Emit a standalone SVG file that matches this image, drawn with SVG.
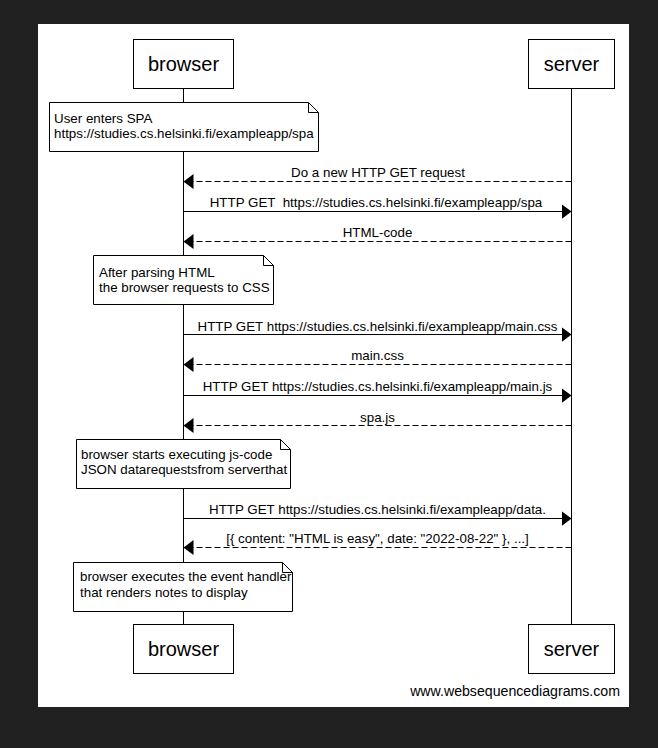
<svg xmlns="http://www.w3.org/2000/svg" width="658" height="748" viewBox="0 0 658 748">
  <defs>
    <marker id="head" markerUnits="userSpaceOnUse" markerWidth="10" markerHeight="15" refX="10" refY="7.5" orient="auto">
      <path d="M0,0 L10,7.5 L0,15 Z" fill="#000"/>
    </marker>
    <style>
      .box{fill:#fff;stroke:#000;stroke-width:1}
      .life{stroke:#000;stroke-width:1;fill:none}
      .msg{stroke:#000;stroke-width:1;fill:none;marker-end:url(#head)}
      .dash{stroke-dasharray:6,3}
      .title{font-family:"Liberation Sans",Arial,sans-serif;font-size:20px;fill:#000;text-anchor:middle}
      .lbl{font-family:"Liberation Sans",Arial,sans-serif;font-size:13.35px;fill:#000;text-anchor:middle;white-space:pre}
      .note{font-family:"Liberation Sans",Arial,sans-serif;font-size:13.35px;fill:#000}
      .fold{fill:none;stroke:#000;stroke-width:1}
    </style>
  </defs>
  <rect x="0" y="0" width="658" height="748" fill="#212121"/>
  <rect x="38" y="24" width="591" height="683" fill="#fff"/>

  <g id="lifelines">
    <line class="life" x1="183.5" y1="88.5" x2="183.5" y2="624.5"/>
    <line class="life" x1="571.5" y1="88.5" x2="571.5" y2="624.5"/>
  </g>

  <g id="browser-top">
    <rect class="box" x="133.5" y="39.5" width="100" height="49"/>
    <text class="title" x="183.5" y="71">browser</text>
  </g>
  <g id="server-top">
    <rect class="box" x="528.5" y="39.5" width="86" height="49"/>
    <text class="title" x="571.5" y="71">server</text>
  </g>
  <g id="browser-bottom">
    <rect class="box" x="133.5" y="624.5" width="100" height="49"/>
    <text class="title" x="183.5" y="656">browser</text>
  </g>
  <g id="server-bottom">
    <rect class="box" x="528.5" y="624.5" width="86" height="49"/>
    <text class="title" x="571.5" y="656">server</text>
  </g>

  <g id="note1">
    <path class="box" d="M49.5,102.5 H308.5 L318.5,112.5 V151.5 H49.5 Z"/>
    <path class="fold" d="M308.5,102.5 V112.5 H318.5"/>
    <text class="note" x="54" y="122.5">User enters SPA</text>
    <text class="note" x="54" y="137.5">https://studies.cs.helsinki.fi/exampleapp/spa</text>
  </g>
  <g id="note2">
    <path class="box" d="M93.5,255.5 H263.5 L273.5,265.5 V304.5 H93.5 Z"/>
    <path class="fold" d="M263.5,255.5 V265.5 H273.5"/>
    <text class="note" x="99" y="276.5">After parsing HTML</text>
    <text class="note" x="99" y="292">the browser requests to CSS</text>
  </g>
  <g id="note3">
    <path class="box" d="M76.5,439.5 H280.5 L290.5,449.5 V488.5 H76.5 Z"/>
    <path class="fold" d="M280.5,439.5 V449.5 H290.5"/>
    <text class="note" x="81" y="458.5">browser starts executing js-code</text>
    <text class="note" x="81" y="473.5">JSON datarequestsfrom serverthat</text>
  </g>
  <g id="note4">
    <path class="box" d="M73.5,562.5 H282.5 L292.5,572.5 V611.5 H73.5 Z"/>
    <path class="fold" d="M282.5,562.5 V572.5 H292.5"/>
    <text class="note" x="80" y="581">browser executes the event handler</text>
    <text class="note" x="80" y="596.5">that renders notes to display</text>
  </g>

  <g id="connectors">
    <line class="msg dash" x1="571.5" y1="181.5" x2="183.5" y2="181.5"/>
    <text class="lbl" x="378" y="177">Do a new HTTP GET request</text>

    <line class="msg" x1="183.5" y1="211.5" x2="571.5" y2="211.5"/>
    <text class="lbl" x="376" y="207">HTTP GET  https://studies.cs.helsinki.fi/exampleapp/spa</text>

    <line class="msg dash" x1="571.5" y1="241.5" x2="183.5" y2="241.5"/>
    <text class="lbl" x="377.5" y="237">HTML-code</text>

    <line class="msg" x1="183.5" y1="334.5" x2="571.5" y2="334.5"/>
    <text class="lbl" x="377.5" y="330.5">HTTP GET https://studies.cs.helsinki.fi/exampleapp/main.css</text>

    <line class="msg dash" x1="571.5" y1="364.5" x2="183.5" y2="364.5"/>
    <text class="lbl" x="377.5" y="360">main.css</text>

    <line class="msg" x1="183.5" y1="395.5" x2="571.5" y2="395.5"/>
    <text class="lbl" x="377.5" y="391">HTTP GET https://studies.cs.helsinki.fi/exampleapp/main.js</text>

    <line class="msg dash" x1="571.5" y1="425.5" x2="183.5" y2="425.5"/>
    <text class="lbl" x="377.5" y="421.5">spa.js</text>

    <line class="msg" x1="183.5" y1="518.5" x2="571.5" y2="518.5"/>
    <text class="lbl" x="377.5" y="514">HTTP GET https://studies.cs.helsinki.fi/exampleapp/data.</text>

    <line class="msg dash" x1="571.5" y1="547.5" x2="183.5" y2="547.5"/>
    <text class="lbl" x="377.5" y="543">[{ content: "HTML is easy", date: "2022-08-22" }, ...]</text>
  </g>

  <text class="note" x="620" y="696" style="font-size:14.15px;text-anchor:end">www.websequencediagrams.com</text>
</svg>
